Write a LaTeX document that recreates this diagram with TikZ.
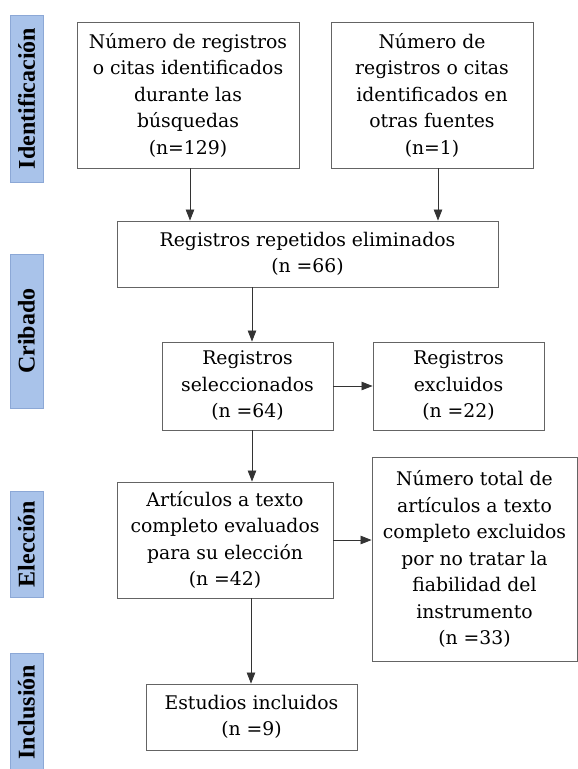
\documentclass[tikz,border=0pt]{standalone}
\usepackage{fontspec}
\setmainfont{DejaVu Serif}
\newfontfamily\labfont{Liberation Serif}
\usetikzlibrary{arrows.meta}
\definecolor{labfill}{RGB}{169,195,234}
\definecolor{labdraw}{RGB}{140,168,214}
\definecolor{boxdraw}{RGB}{100,100,100}
\tikzset{
  box/.style={draw=boxdraw, line width=0.9pt, align=center, inner sep=0pt,
    font=\fontsize{18.8}{26.5}\selectfont, text=black},
  lab/.style={draw=labdraw, fill=labfill, line width=0.9pt, rotate=90, inner sep=0pt,
    minimum height=33pt, font=\labfont\bfseries\fontsize{24}{26}\selectfont},
  arr/.style={draw=black!80, line width=0.8pt, -{Triangle[length=11pt,width=8.5pt]}}
}
\begin{document}
\begin{tikzpicture}[x=1pt,y=-1pt]
\useasboundingbox (0,0) rectangle (578,769);
% side labels
\node[lab, minimum width=167pt] (lid) at (26.5,98.5) {Identificación};
\node[lab, minimum width=154pt] (lcr) at (26.5,331) {Cribado};
\node[lab, minimum width=106pt] (lel) at (26.5,544) {Elección};
\node[lab, minimum width=118pt] (lin) at (26.5,712) {Inclusión};
% boxes
\node[box, minimum width=222pt, minimum height=146pt] (b1) at (188,95)
  {Número de registros\\o citas identificados\\durante las\\búsquedas\\(n=129)};
\node[box, minimum width=202pt, minimum height=146pt] (b2) at (432,95)
  {Número de\\registros o citas\\identificados en\\otras fuentes\\(n=1)};
\node[box, minimum width=381pt, minimum height=66pt] (b3) at (307.5,254)
  {Registros repetidos eliminados\\(n =66)};
\node[box, minimum width=171pt, minimum height=88pt] (b4) at (247.5,386)
  {Registros\\seleccionados\\(n =64)};
\node[box, minimum width=171pt, minimum height=88pt] (b5) at (458.5,386)
  {Registros\\excluidos\\(n =22)};
\node[box, minimum width=216pt, minimum height=116pt] (b6) at (225,540)
  {Artículos a texto\\completo evaluados\\para su elección\\(n =42)};
\node[box, minimum width=205pt, minimum height=204pt] (b7) at (474.5,559)
  {Número total de\\artículos a texto\\completo excluidos\\por no tratar la\\fiabilidad del\\instrumento\\(n =33)};
\node[box, minimum width=211pt, minimum height=66pt] (b8) at (251.5,717)
  {Estudios incluidos\\(n =9)};
% arrow columns
\coordinate (c1) at (190,0);
\coordinate (c2) at (438,0);
\coordinate (c3) at (252,0);
\coordinate (c4) at (251,0);
\draw[arr] (b1.south -| c1) -- (b3.north -| c1);
\draw[arr] (b2.south -| c2) -- (b3.north -| c2);
\draw[arr] (b3.south -| c3) -- (b4.north -| c3);
\draw[arr] (b4.east) -- (b5.west);
\draw[arr] (b4.south -| c3) -- (b6.north -| c3);
\draw[arr] (b6.east) -- (b7.west |- b6.east);
\draw[arr] (b6.south -| c4) -- (b8.north -| c4);
\end{tikzpicture}
\end{document}
